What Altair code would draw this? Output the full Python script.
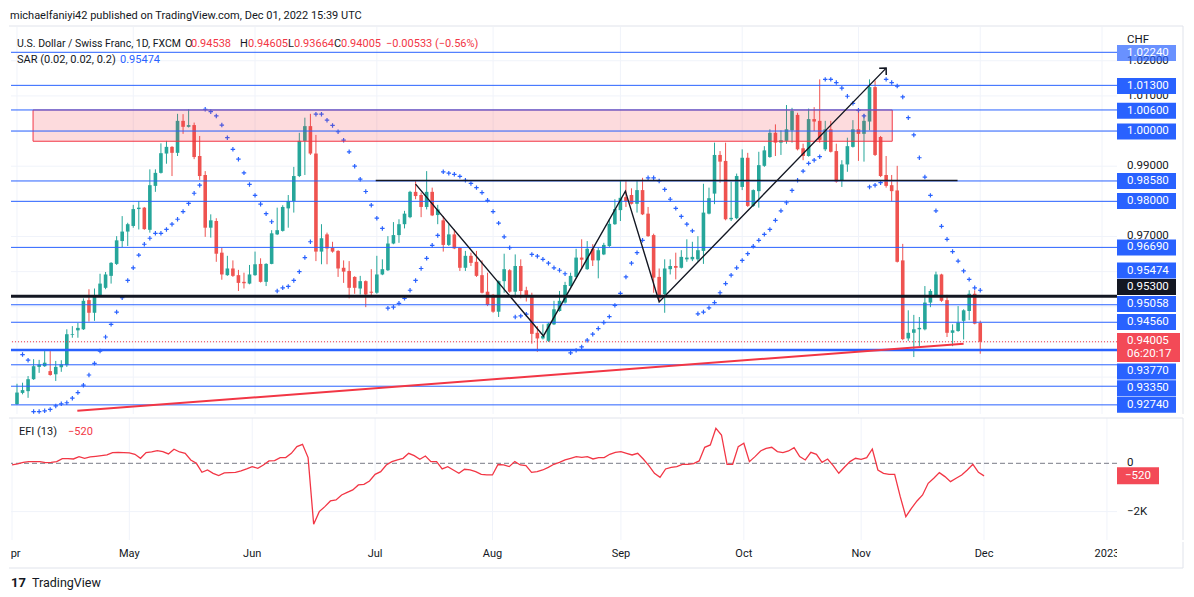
import altair as alt
import pandas as pd

# ---------------- data ----------------
OPEN = [0.9223,0.9255,0.9260,0.9294,0.9329,0.9331,0.9317,0.9308,0.9328,0.9334,
        0.9420,0.9433,0.9436,0.9519,0.9483,0.9531,0.9554,0.9588,0.9622,0.9687,
        0.9714,0.9730,0.9778,0.9782,0.9719,0.9844,0.9881,0.9936,0.9955,0.9938,
        1.0029,1.0012,1.0017,0.9929,0.9875,0.9725,0.9744,0.9654,0.9590,0.9609,
        0.9590,0.9571,0.9566,0.9590,0.9622,0.9571,0.9622,0.9706,0.9716,0.9780,
        0.9801,0.9872,0.9972,1.0014,0.9936,0.9657,0.9706,0.9668,0.9659,0.9611,
        0.9602,0.9585,0.9552,0.9573,0.9543,0.9540,0.9592,0.9604,0.9680,0.9704,
        0.9735,0.9755,0.9827,0.9818,0.9784,0.9827,0.9761,0.9746,0.9676,0.9706,
        0.9668,0.9611,0.9645,0.9628,0.9590,0.9543,0.9534,0.9486,0.9573,0.9604,
        0.9543,0.9616,0.9547,0.9531,0.9426,0.9410,0.9403,0.9450,0.9488,0.9512,
        0.9559,0.9585,0.9640,0.9607,0.9665,0.9632,0.9649,0.9673,0.9735,0.9775,
        0.9812,0.9818,0.9793,0.9832,0.9765,0.9704,0.9585,0.9536,0.9607,0.9616,
        0.9611,0.9635,0.9635,0.9635,0.9659,0.9765,0.9822,0.9932,0.9915,0.9749,
        0.9752,0.9841,0.9924,0.9787,0.9829,0.9901,0.9926,0.9995,0.9967,0.9972,
        1.0002,1.0046,0.9951,0.9929,1.0034,1.0029,0.9948,1.0005,0.9943,0.9858,
        0.9905,0.9955,1.0005,0.9992,1.0027,1.0125,0.9983,0.9875,0.9846,0.9831,
        0.9632,0.9410,0.9426,0.9436,0.9436,0.9512,0.9531,0.9592,0.9519,0.9426,
        0.9431,0.9460,0.9488,0.9537,0.94538]
HIGH = [0.9281,0.9284,0.9303,0.9351,0.9349,0.9374,0.9374,0.9346,0.9348,0.9436,
        0.9445,0.9454,0.9524,0.9550,0.9552,0.9594,0.9599,0.9627,0.9701,0.9758,
        0.9739,0.9790,0.9801,0.9784,0.9891,0.9891,0.9965,0.9972,0.9957,1.0049,
        1.0048,1.0062,1.0024,0.9986,0.9886,0.9763,0.9752,0.9668,0.9645,0.9632,
        0.9605,0.9597,0.9619,0.9657,0.9638,0.9624,0.9718,0.9782,0.9789,0.9818,
        0.9898,0.9995,1.0038,1.0049,0.9989,0.9735,0.9711,0.9685,0.9661,0.9632,
        0.9630,0.9587,0.9588,0.9575,0.9607,0.9645,0.9635,0.9701,0.9741,0.9749,
        0.9773,0.9830,0.9858,0.9825,0.9886,0.9839,0.9790,0.9758,0.9735,0.9720,
        0.9670,0.9659,0.9654,0.9659,0.9632,0.9597,0.9536,0.9575,0.9651,0.9607,
        0.9649,0.9635,0.9557,0.9540,0.9445,0.9450,0.9455,0.9517,0.9545,0.9571,
        0.9597,0.9665,0.9692,0.9687,0.9678,0.9668,0.9682,0.9749,0.9806,0.9860,
        0.9860,0.9837,0.9860,0.9867,0.9784,0.9708,0.9609,0.9635,0.9635,0.9654,
        0.9661,0.9692,0.9685,0.9701,0.9850,0.9839,0.9967,0.9943,0.9967,0.9856,
        0.9879,0.9948,0.9938,0.9834,0.9941,0.9957,1.0005,1.0019,1.0002,1.0074,
        1.0066,1.0052,0.9964,1.0064,1.0068,1.0147,1.0029,1.0029,0.9964,0.9917,
        0.9981,1.0031,1.0062,1.0048,1.0147,1.0144,0.9986,0.9929,0.9875,0.9901,
        0.9679,0.9490,0.9477,0.9471,0.9559,0.9550,0.9600,0.9594,0.9534,0.9450,
        0.9502,0.9493,0.9547,0.9547,0.94605]
LOW = [0.9221,0.9251,0.9241,0.9292,0.9312,0.9329,0.9304,0.9289,0.9315,0.9329,
       0.9412,0.9412,0.9434,0.9458,0.9460,0.9528,0.9550,0.9566,0.9619,0.9670,
       0.9673,0.9725,0.9720,0.9719,0.9711,0.9827,0.9879,0.9907,0.9872,0.9929,
       0.9992,1.0010,0.9920,0.9861,0.9699,0.9697,0.9628,0.9577,0.9588,0.9585,
       0.9545,0.9552,0.9564,0.9588,0.9569,0.9559,0.9621,0.9704,0.9714,0.9725,
       0.9768,0.9869,0.9875,0.9932,0.9630,0.9621,0.9621,0.9654,0.9585,0.9568,
       0.9524,0.9537,0.9535,0.9499,0.9531,0.9537,0.9590,0.9602,0.9678,0.9682,
       0.9723,0.9752,0.9806,0.9755,0.9777,0.9758,0.9735,0.9657,0.9673,0.9664,
       0.9602,0.9602,0.9616,0.9585,0.9538,0.9502,0.9483,0.9471,0.9540,0.9540,
       0.9526,0.9524,0.9515,0.9395,0.9372,0.9407,0.9400,0.9448,0.9486,0.9509,
       0.9557,0.9583,0.9607,0.9605,0.9616,0.9581,0.9647,0.9670,0.9733,0.9744,
       0.9784,0.9791,0.9768,0.9761,0.9699,0.9540,0.9517,0.9483,0.9592,0.9578,
       0.9609,0.9628,0.9630,0.9628,0.9622,0.9763,0.9792,0.9853,0.9746,0.9744,
       0.9749,0.9832,0.9784,0.9784,0.9782,0.9898,0.9924,0.9929,0.9932,0.9964,
       0.9967,0.9945,0.9917,0.9927,1.0000,0.9967,0.9943,0.9939,0.9853,0.9841,
       0.9884,0.9953,0.9915,0.9913,1.0002,0.9929,0.9869,0.9839,0.9801,0.9626,
       0.9405,0.9403,0.9357,0.9388,0.9433,0.9499,0.9529,0.9514,0.9414,0.9388,
       0.9429,0.9407,0.9462,0.9450,0.93664]
CLOSE = [0.9256,0.9263,0.9294,0.9331,0.9336,0.9341,0.9306,0.9329,0.9336,0.9422,
         0.9422,0.9440,0.9517,0.9483,0.9531,0.9566,0.9592,0.9625,0.9689,0.9714,
         0.9735,0.9778,0.9782,0.9721,0.9846,0.9881,0.9937,0.9955,0.9938,1.0029,
         1.0012,1.0017,0.9926,0.9872,0.9725,0.9746,0.9651,0.9592,0.9609,0.9588,
         0.9568,0.9567,0.9592,0.9621,0.9571,0.9622,0.9709,0.9718,0.9784,0.9801,
         0.9872,0.9972,1.0014,0.9936,0.9657,0.9695,0.9666,0.9657,0.9609,0.9600,
         0.9554,0.9554,0.9573,0.9535,0.9540,0.9592,0.9607,0.9680,0.9704,0.9735,
         0.9765,0.9827,0.9815,0.9784,0.9827,0.9760,0.9777,0.9676,0.9706,0.9666,
         0.9611,0.9645,0.9625,0.9588,0.9540,0.9505,0.9486,0.9573,0.9607,0.9543,
         0.9616,0.9545,0.9528,0.9423,0.9410,0.9417,0.9452,0.9493,0.9517,0.9562,
         0.9588,0.9640,0.9634,0.9665,0.9632,0.9661,0.9676,0.9736,0.9778,0.9810,
         0.9801,0.9793,0.9832,0.9763,0.9701,0.9583,0.9524,0.9609,0.9616,0.9611,
         0.9642,0.9640,0.9642,0.9661,0.9768,0.9809,0.9932,0.9913,0.9749,0.9753,
         0.9872,0.9924,0.9787,0.9832,0.9903,0.9945,0.9995,0.9967,0.9974,1.0005,
         1.0057,0.9948,0.9929,1.0034,1.0027,0.9975,1.0005,0.9941,0.9856,0.9905,
         0.9957,1.0005,0.9992,1.0029,1.0125,0.9932,0.9872,0.9844,0.9829,0.9628,
         0.9408,0.9426,0.9436,0.9440,0.9512,0.9545,0.9592,0.9517,0.9426,0.9433,
         0.9455,0.9490,0.9537,0.9452,0.94005]
SAR = [None,0.9364,0.9348,0.9202,0.9202,0.9204,0.9208,0.9218,0.9224,0.9227,
       0.9240,0.9256,0.9277,0.9306,0.9339,0.9374,0.9414,0.9450,0.9485,0.9526,
       0.9575,0.9611,0.9647,0.9678,0.9695,0.9709,0.9709,0.9720,0.9735,0.9749,
       0.9771,0.9794,0.9823,0.9846,1.0062,1.0055,1.0043,1.0017,0.9981,0.9948,
       0.9920,0.9881,0.9848,0.9817,0.9792,0.9765,0.9742,0.9545,0.9554,0.9558,
       0.9575,0.9600,0.9640,0.9685,1.0048,1.0048,1.0031,1.0016,0.9998,0.9974,
       0.9941,0.9900,0.9863,0.9828,0.9789,0.9752,0.9723,0.9496,0.9499,0.9510,
       0.9524,0.9547,0.9575,0.9609,0.9638,0.9675,0.9703,0.9884,0.9880,0.9877,
       0.9871,0.9860,0.9851,0.9839,0.9825,0.9803,0.9771,0.9738,0.9699,0.9668,
       0.9471,0.9474,0.9479,0.9649,0.9644,0.9635,0.9624,0.9611,0.9604,0.9594,
       0.9369,0.9376,0.9386,0.9405,0.9422,0.9438,0.9455,0.9472,0.9504,0.9538,
       0.9585,0.9624,0.9654,0.9689,0.9867,0.9867,0.9858,0.9834,0.9806,0.9780,
       0.9757,0.9735,0.9716,0.9480,0.9485,0.9497,0.9512,0.9540,0.9566,0.9590,
       0.9611,0.9632,0.9651,0.9672,0.9689,0.9706,0.9720,0.9746,0.9773,0.9796,
       0.9831,0.9860,0.9886,0.9908,0.9917,0.9927,1.0147,1.0147,1.0138,1.0122,
       1.0099,1.0079,1.0059,1.0043,0.9841,0.9846,0.9853,1.0147,1.0138,1.0128,
       1.0097,1.0038,0.9989,0.9924,0.9869,0.9817,0.9773,0.9729,0.9692,0.9657,
       0.9630,0.9602,0.9578,0.9554,0.9547]
EFI = [-69,-28,41,69,69,69,28,41,69,193,
       193,179,276,207,262,290,317,345,442,455,
       442,428,373,207,442,469,524,483,386,580,
       469,414,138,0,-373,-276,-414,-511,-400,-386,
       -373,-317,-235,-138,-207,-69,97,110,235,235,
       414,690,787,235,-2525,-2001,-1794,-1559,-1518,-1311,
       -1201,-1104,-897,-869,-731,-455,-345,-69,69,138,
       207,414,317,166,304,69,69,-235,-138,-276,
       -414,-248,-276,-345,-455,-483,-483,-50,-69,-138,
       69,-69,-97,-373,-345,-276,-166,-41,41,138,
       207,276,248,276,179,235,235,373,455,483,
       414,345,414,179,-97,-414,-580,-235,-166,-138,
       -41,-41,-14,97,662,759,1449,1173,-41,-41,
       690,828,69,276,511,621,662,483,442,511,
       649,276,138,455,373,41,179,-97,-414,-166,
       69,207,166,235,593,-276,-414,-455,-455,-1380,
       -2208,-1863,-1559,-1311,-828,-621,-386,-552,-759,-621,
       -483,-276,-41,-373,-520]

MONTH_TICKS = [0, 21, 43, 65, 86, 109, 131, 152, 174, 196]
MONTH_LABELS = ["Apr", "May", "Jun", "Jul", "Aug", "Sep", "Oct", "Nov", "Dec", "2023"]
PRICE_GRID = [0.93, 0.94, 0.95, 0.96, 0.97, 0.98, 0.99, 1.00, 1.01, 1.02]
AXIS_VALUES = [1.02, 1.01, 0.99, 0.97]
AXIS_TEXT = ["1.02000", "1.01000", "0.99000", "0.97000"]
BLUE_LEVELS = [1.0224, 1.013, 1.006, 1.000, 0.9858, 0.980, 0.9669, 0.95058, 0.9456, 0.9335, 0.9274, 0.9221]
THICK_LEVEL = [0.9377]
BLACK_LEVEL = [0.953]
LAST_PRICE = [0.94005]
BOX_TEXT = ["1.02240", "1.01300", "1.00600", "1.00000", "0.98580", "0.98000", "0.96690",
            "0.95474", "0.95300", "0.95058", "0.94560", "0.93770", "0.93350", "0.92740"]
BOX_POS = [1.0222, 1.0128, 1.0058, 0.9999, 0.9858, 0.9801, 0.9669,
           0.9603, 0.9556, 0.9508, 0.9457, 0.9316, 0.9268, 0.9221]
BOX_FILL = ["#2962ff"] * 8 + ["#131722"] + ["#2962ff"] * 5
BOX_OPAC = [0.7] + [1.0] * 13
LAST_BOX_POS = [0.9384]
ZONE = {"x1": [2.9], "x2": [158.1], "y1": [0.9971], "y2": [1.0060]}
BLACK_SEG = {"x1": [64.8], "x2": [169.9], "y": [0.9859]}
TREND_RED = {"x1": [10.9], "x2": [171.0], "y1": [0.9204], "y2": [0.9395]}
ZIG_X = [72.0, 95.1, 109.9, 116.0, 157.0]
ZIG_Y = [0.9849, 0.9417, 0.9829, 0.9514, 1.0179]

# ---------------- styling ----------------
W, HP, HE, HT = 1106, 387, 122, 26
XDOM = [-0.18, 197.8]
YDOM = [0.9195, 1.0296]
EDOM = [-3175, 1875]
GREEN, RED, BLUE, INK, LRED = "#26a69a", "#ef5350", "#2962ff", "#131722", "#f23645"
GRID, FRAME = "#f0f3fa", "#e0e3eb"
FONT = "Roboto"
PX_PER_PRICE = HP / (YDOM[1] - YDOM[0])
PX_PER_EFI = HE / (EDOM[1] - EDOM[0])

xs = alt.Scale(domain=XDOM, nice=False, zero=False)
ys = alt.Scale(domain=YDOM, nice=False, zero=False)
es = alt.Scale(domain=EDOM, nice=False, zero=False)
X = alt.X("i:Q", scale=xs, axis=None)


def Yp(f):
    return alt.Y(f, scale=ys, axis=None)


def Ye(f):
    return alt.Y(f, scale=es, axis=None)


one = pd.DataFrame({"a": [0]})


def label(txt, x, y, color=INK, size=11, align="left", weight="normal", font=FONT):
    return alt.Chart(one).mark_text(text=txt, align=align, baseline="middle", color=color,
                                    fontSize=size, font=font, fontWeight=weight).encode(
        x=alt.value(x), y=alt.value(y))


def hrule(x1, x2, y, color=FRAME, w=1):
    return alt.Chart(one).mark_rule(color=color, strokeWidth=w).encode(
        x=alt.value(x1), x2=alt.value(x2), y=alt.value(y))


def vrule(x, y1, y2, color=FRAME, w=1):
    return alt.Chart(one).mark_rule(color=color, strokeWidth=w).encode(
        x=alt.value(x), y=alt.value(y1), y2=alt.value(y2))


df = pd.DataFrame({"i": list(range(len(OPEN))), "open": OPEN, "high": HIGH, "low": LOW,
                   "close": CLOSE, "sar": SAR, "efi": EFI})
df["dir"] = ["up" if c >= o else "down" for o, c in zip(OPEN, CLOSE)]
COL = alt.Color("dir:N", scale=alt.Scale(domain=["up", "down"], range=[GREEN, RED]), legend=None)

months = pd.DataFrame({"i": MONTH_TICKS, "lab": MONTH_LABELS})
grid_v = alt.Chart(months).mark_rule(color=GRID, strokeWidth=1).encode(x=X)

# ---------------- price pane ----------------
grid_h = alt.Chart(pd.DataFrame({"p": PRICE_GRID})).mark_rule(color=GRID).encode(y=Yp("p:Q"))
wicks = alt.Chart(df).mark_rule(strokeWidth=1).encode(x=X, y=Yp("low:Q"), y2="high:Q", color=COL)
bodies = alt.Chart(df).mark_bar(size=3.6).encode(x=X, y=Yp("open:Q"), y2="close:Q", color=COL)
sar = alt.Chart(df).mark_point(shape="M-1,0L1,0M0,-1L0,1", filled=False, size=20,
                               strokeWidth=1.2, color=BLUE, opacity=1).encode(x=X, y=Yp("sar:Q"))
zone = alt.Chart(pd.DataFrame(ZONE)).mark_rect(fill=LRED, fillOpacity=0.18, stroke=LRED,
                                               strokeWidth=1).encode(
    x=alt.X("x1:Q", scale=xs, axis=None), x2="x2:Q", y=Yp("y1:Q"), y2="y2:Q")
lv_blue = alt.Chart(pd.DataFrame({"p": BLUE_LEVELS})).mark_rule(color=BLUE, strokeWidth=1).encode(y=Yp("p:Q"))
lv_thick = alt.Chart(pd.DataFrame({"p": THICK_LEVEL})).mark_rule(color=BLUE, strokeWidth=2.5).encode(y=Yp("p:Q"))
lv_black = alt.Chart(pd.DataFrame({"p": BLACK_LEVEL})).mark_rule(color=INK, strokeWidth=3).encode(y=Yp("p:Q"))
lv_last = alt.Chart(pd.DataFrame({"p": LAST_PRICE})).mark_rule(color=LRED, strokeWidth=1,
                                                               strokeDash=[1, 2]).encode(y=Yp("p:Q"))
black_seg = alt.Chart(pd.DataFrame(BLACK_SEG)).mark_rule(color=INK, strokeWidth=1.5).encode(
    x=alt.X("x1:Q", scale=xs, axis=None), x2="x2:Q", y=Yp("y:Q"))
trend = alt.Chart(pd.DataFrame(TREND_RED)).mark_rule(color=LRED, strokeWidth=2).encode(
    x=alt.X("x1:Q", scale=xs, axis=None), x2="x2:Q", y=Yp("y1:Q"), y2="y2:Q")
zig_df = pd.DataFrame({"x": ZIG_X, "y": ZIG_Y, "k": list(range(len(ZIG_X)))})
zig = alt.Chart(zig_df).mark_line(color=INK, strokeWidth=1.4).encode(
    x=alt.X("x:Q", scale=xs, axis=None), y=Yp("y:Q"), order="k:O")
arrow = alt.Chart(zig_df.tail(1)).mark_point(shape="M-0.8,0.8L0,0L0.8,0.8", filled=False, size=150,
                                             strokeWidth=1.5, color=INK, opacity=1, angle=44).encode(
    x=alt.X("x:Q", scale=xs, axis=None), y=Yp("y:Q"))

axis_txt = alt.Chart(pd.DataFrame({"p": AXIS_VALUES, "t": AXIS_TEXT})).mark_text(
    align="left", baseline="middle", color=INK, fontSize=11.5, font=FONT).encode(
    x=alt.value(W + 10), y=Yp("p:Q"), text="t:N")

half = 8.0 / PX_PER_PRICE
box_df = pd.DataFrame({"t": BOX_TEXT, "pos": BOX_POS, "fill": BOX_FILL, "op": BOX_OPAC})
box_df["top"] = box_df["pos"] + half
box_df["bot"] = box_df["pos"] - half
boxes = alt.Chart(box_df).mark_rect().encode(
    x=alt.value(W), x2=alt.value(W + 59), y=Yp("top:Q"), y2="bot:Q",
    fill=alt.Fill("fill:N", scale=None), opacity=alt.Opacity("op:Q", scale=None))
box_txt = alt.Chart(box_df).mark_text(align="left", baseline="middle", color="white",
                                      fontSize=11.5, font=FONT).encode(
    x=alt.value(W + 10), y=Yp("pos:Q"), text="t:N")
lb_half = 14.5 / PX_PER_PRICE
lb_line = 6.5 / PX_PER_PRICE
last_df = pd.DataFrame({"pos": LAST_BOX_POS})
last_df["top"] = last_df["pos"] + lb_half
last_df["bot"] = last_df["pos"] - lb_half
last_df["l1"] = last_df["pos"] + lb_line
last_df["l2"] = last_df["pos"] - lb_line
last_box = alt.Chart(last_df).mark_rect(color=LRED, opacity=0.9).encode(
    x=alt.value(W), x2=alt.value(W + 63), y=Yp("top:Q"), y2="bot:Q")
last_t1 = alt.Chart(last_df).mark_text(text="0.94005", align="left", baseline="middle", color="white",
                                       fontSize=11.5, font=FONT).encode(x=alt.value(W + 10), y=Yp("l1:Q"))
last_t2 = alt.Chart(last_df).mark_text(text="06:20:17", align="left", baseline="middle", color="white",
                                       fontSize=11.5, font=FONT).encode(x=alt.value(W + 10), y=Yp("l2:Q"))

legend = [
    label("michaelfaniyi42 published on TradingView.com, Dec 01, 2022 15:39 UTC", -1, -11),
    label("U.S. Dollar / Swiss Franc, 1D, FXCM", 6, 16.5, size=10.5),
    label("O", 174, 16.5), label("0.94538", 180, 16.5, LRED),
    label("H", 229, 16.5), label("0.94605", 237, 16.5, LRED),
    label("L", 277, 16.5), label("0.93664", 283, 16.5, LRED),
    label("C", 323, 16.5), label("0.94005", 330, 16.5, LRED),
    label("\u22120.00533 (\u22120.56%)", 375, 16.5, LRED),
    label("SAR (0.02, 0.02, 0.2)", 6, 33), label("0.95474", 109, 33, BLUE),
    label("CHF", W + 10, 13, size=11.5),
]

price = alt.layer(
    grid_v, grid_h, wicks, bodies, sar, zone, lv_blue, lv_thick, lv_black, lv_last,
    black_seg, trend, zig, arrow, axis_txt, boxes, box_txt, last_box, last_t1, last_t2,
    hrule(-2, W + 66, -1), vrule(W + 66, -1, HP), *legend
).properties(width=W, height=HP)

# ---------------- EFI pane ----------------
egrid = alt.Chart(pd.DataFrame({"v": [-2000]})).mark_rule(color=GRID).encode(y=Ye("v:Q"))
ezero = alt.Chart(pd.DataFrame({"v": [0]})).mark_rule(color="#787b86", strokeWidth=1,
                                                      strokeDash=[5, 3]).encode(y=Ye("v:Q"))
eline = alt.Chart(df).mark_line(color=LRED, strokeWidth=1.3).encode(x=X, y=Ye("efi:Q"))
elab = alt.Chart(pd.DataFrame({"v": [0, -2000], "t": ["0", "\u22122K"]})).mark_text(
    align="left", baseline="middle", color=INK, fontSize=11.5, font=FONT).encode(
    x=alt.value(W + 10), y=Ye("v:Q"), text="t:N")
eb_half = 8.5 / PX_PER_EFI
ebox_df = pd.DataFrame({"v": [EFI[-1]], "t": ["\u2212520"]})
ebox_df["top"] = ebox_df["v"] + eb_half
ebox_df["bot"] = ebox_df["v"] - eb_half
ebox = alt.Chart(ebox_df).mark_rect(color=LRED, opacity=0.9).encode(
    x=alt.value(W), x2=alt.value(W + 42), y=Ye("top:Q"), y2="bot:Q")
ebox_t = alt.Chart(ebox_df).mark_text(align="left", baseline="middle", color="white",
                                      fontSize=11.5, font=FONT).encode(
    x=alt.value(W + 8), y=Ye("v:Q"), text="t:N")

efi = alt.layer(
    grid_v, egrid, ezero, eline, elab, ebox, ebox_t,
    label("EFI (13)", 8, 13.5), label("\u2212520", 57, 13.5, LRED),
    hrule(-2, W + 66, 0), vrule(W + 66, 0, HE)
).properties(width=W, height=HE)

# ---------------- time axis ----------------
tlabels = alt.Chart(months).mark_text(clip=True, baseline="middle", align="center", color=INK,
                                      fontSize=11, font=FONT).encode(
    x=X, y=alt.value(12), text="lab:N")
timeaxis = alt.layer(
    tlabels, hrule(-2, W + 66, HT), vrule(W + 66, 0, HT),
    label("17", 0, 41, size=13, weight="bold"),
    label("TradingView", 21, 41, size=12.5),
).properties(width=W, height=HT)

chart = alt.vconcat(price, efi, timeaxis, spacing=0).properties(
    padding={"left": 0, "top": 2, "right": 0, "bottom": 0}, background="white"
).configure_view(strokeWidth=0)

chart.save("out.html", embed_options={"renderer": "svg", "actions": False})
